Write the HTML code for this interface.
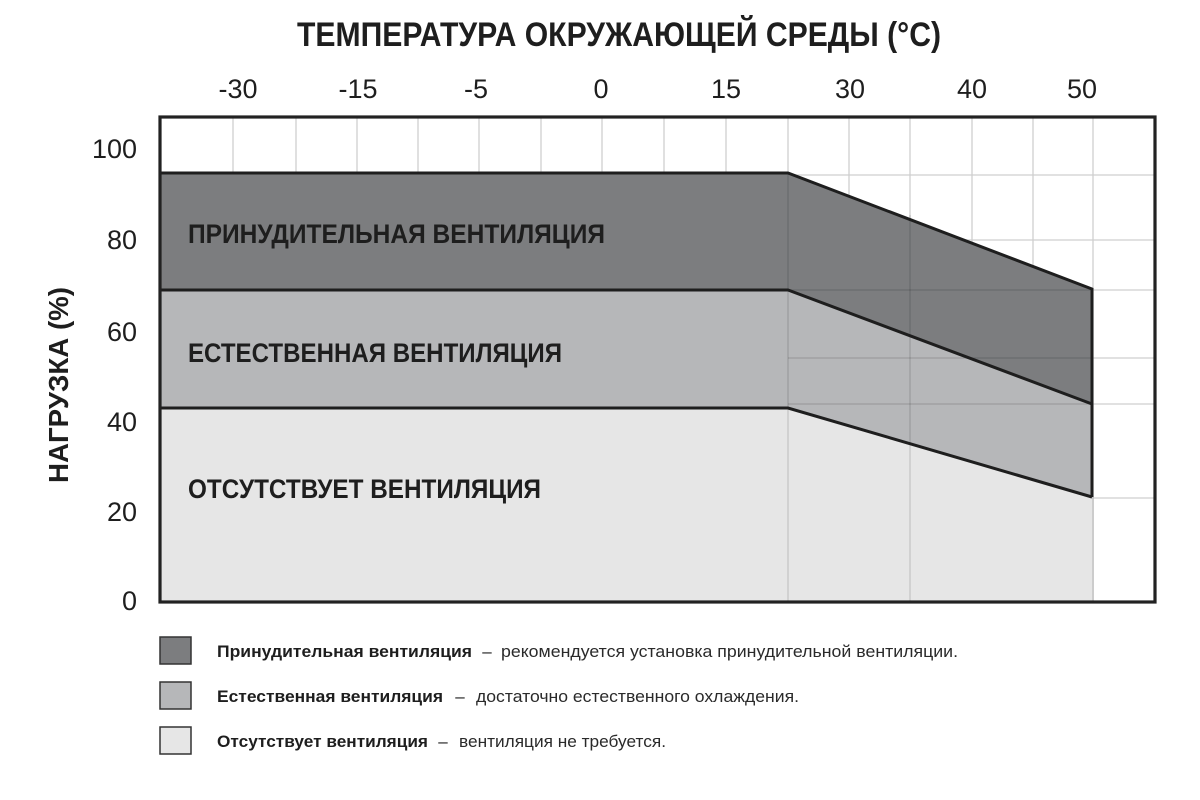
<!DOCTYPE html>
<html>
<head>
<meta charset="utf-8">
<style>
html,body{margin:0;padding:0;background:#fff;}
svg{display:block;}
text{font-family:"Liberation Sans","Noto Sans CJK SC",sans-serif;}
</style>
</head>
<body>
<svg width="1200" height="800" viewBox="0 0 1200 800" xmlns="http://www.w3.org/2000/svg">
<rect x="0" y="0" width="1200" height="800" fill="#fff"/>

<!-- Title -->
<text x="297" y="46" font-size="34" font-weight="bold" fill="#1e1e1e" textLength="644" lengthAdjust="spacingAndGlyphs">ТЕМПЕРАТУРА ОКРУЖАЮЩЕЙ СРЕДЫ (°C)</text>

<!-- X tick labels -->
<g font-size="27" fill="#1e1e1e" text-anchor="middle">
<text x="238" y="98">-30</text>
<text x="358" y="98">-15</text>
<text x="476" y="98">-5</text>
<text x="601" y="98">0</text>
<text x="726" y="98">15</text>
<text x="850" y="98">30</text>
<text x="972" y="98">40</text>
<text x="1082" y="98">50</text>
</g>

<!-- Y tick labels -->
<g font-size="27" fill="#1e1e1e" text-anchor="end">
<text x="137" y="158">100</text>
<text x="137" y="249">80</text>
<text x="137" y="341">60</text>
<text x="137" y="431">40</text>
<text x="137" y="521">20</text>
<text x="137" y="610">0</text>
</g>

<!-- Y axis title -->
<text transform="translate(68,385) rotate(-90)" x="-98" y="0" font-size="28" font-weight="bold" fill="#1e1e1e" textLength="196" lengthAdjust="spacingAndGlyphs">НАГРУЗКА (%)</text>

<!-- plot background -->
<rect x="160" y="117" width="995" height="485" fill="#fff"/>

<!-- grid lines -->
<g stroke="#cfcfcf" stroke-width="1.3">
<line x1="233" y1="117" x2="233" y2="602"/>
<line x1="296" y1="117" x2="296" y2="602"/>
<line x1="357" y1="117" x2="357" y2="602"/>
<line x1="418" y1="117" x2="418" y2="602"/>
<line x1="479" y1="117" x2="479" y2="602"/>
<line x1="541" y1="117" x2="541" y2="602"/>
<line x1="602" y1="117" x2="602" y2="602"/>
<line x1="664" y1="117" x2="664" y2="602"/>
<line x1="726" y1="117" x2="726" y2="602"/>
<line x1="788" y1="117" x2="788" y2="602"/>
<line x1="849" y1="117" x2="849" y2="602"/>
<line x1="910" y1="117" x2="910" y2="602"/>
<line x1="972" y1="117" x2="972" y2="602"/>
<line x1="1033" y1="117" x2="1033" y2="602"/>
<line x1="1093" y1="117" x2="1093" y2="602"/>
<line x1="160" y1="175" x2="1155" y2="175"/>
<line x1="160" y1="240" x2="1155" y2="240"/>
<line x1="160" y1="290" x2="1155" y2="290"/>
<line x1="160" y1="358" x2="1155" y2="358"/>
<line x1="160" y1="404" x2="1155" y2="404"/>
<line x1="160" y1="498" x2="1155" y2="498"/>
</g>

<!-- bands -->
<polygon points="160,173 788,173 1092,289 1092,404 788,290 160,290" fill="#7c7d7f"/>
<polygon points="160,290 788,290 1092,404 1092,497 788,408 160,408" fill="#b6b7b9"/>
<polygon points="160,408 788,408 1092,497 1092,602 160,602" fill="#e6e6e6"/>

<!-- grid lines visible over right part of bands -->
<g stroke="#000" stroke-opacity="0.14" stroke-width="1.3">
<line x1="788" y1="173" x2="788" y2="602"/>
<line x1="910" y1="215" x2="910" y2="602"/>
<line x1="1093" y1="497" x2="1093" y2="602"/>
<line x1="788" y1="290" x2="1092" y2="290"/>
<line x1="788" y1="358" x2="1092" y2="358"/>
<line x1="788" y1="404" x2="1092" y2="404"/>
</g>

<!-- band boundaries -->
<g fill="none" stroke="#1e1e1e" stroke-width="3" stroke-linejoin="miter">
<polyline points="160,173 788,173 1092,289 1092,497"/>
<polyline points="160,290 788,290 1092,404"/>
<polyline points="160,408 788,408 1092,497"/>
</g>

<!-- frame -->
<rect x="160" y="117" width="995" height="485" fill="none" stroke="#222" stroke-width="3.2"/>

<!-- band labels -->
<g font-size="27" font-weight="bold" fill="#1e1e1e">
<text x="188" y="243" textLength="417" lengthAdjust="spacingAndGlyphs">ПРИНУДИТЕЛЬНАЯ ВЕНТИЛЯЦИЯ</text>
<text x="188" y="362" textLength="374" lengthAdjust="spacingAndGlyphs">ЕСТЕСТВЕННАЯ ВЕНТИЛЯЦИЯ</text>
<text x="188" y="498" textLength="353" lengthAdjust="spacingAndGlyphs">ОТСУТСТВУЕТ ВЕНТИЛЯЦИЯ</text>
</g>

<!-- legend -->
<rect x="160" y="637" width="31" height="27" fill="#7c7d7f" stroke="#333" stroke-width="1.5"/>
<rect x="160" y="682" width="31" height="27" fill="#b6b7b9" stroke="#333" stroke-width="1.5"/>
<rect x="160" y="727" width="31" height="27" fill="#e6e6e6" stroke="#333" stroke-width="1.5"/>

<g font-size="17" fill="#1e1e1e">
<text x="217" y="657" font-weight="bold" textLength="255" lengthAdjust="spacingAndGlyphs">Принудительная вентиляция</text>
<text x="487" y="657" text-anchor="middle">–</text>
<text x="501" y="657" fill="#2a2a2a" textLength="457" lengthAdjust="spacingAndGlyphs">рекомендуется установка принудительной вентиляции.</text>

<text x="217" y="702" font-weight="bold" textLength="226" lengthAdjust="spacingAndGlyphs">Естественная вентиляция</text>
<text x="460" y="702" text-anchor="middle">–</text>
<text x="476" y="702" fill="#2a2a2a" textLength="323" lengthAdjust="spacingAndGlyphs">достаточно естественного охлаждения.</text>

<text x="217" y="747" font-weight="bold" textLength="211" lengthAdjust="spacingAndGlyphs">Отсутствует вентиляция</text>
<text x="443" y="747" text-anchor="middle">–</text>
<text x="459" y="747" fill="#2a2a2a" textLength="207" lengthAdjust="spacingAndGlyphs">вентиляция не требуется.</text>
</g>
</svg>
</body>
</html>
